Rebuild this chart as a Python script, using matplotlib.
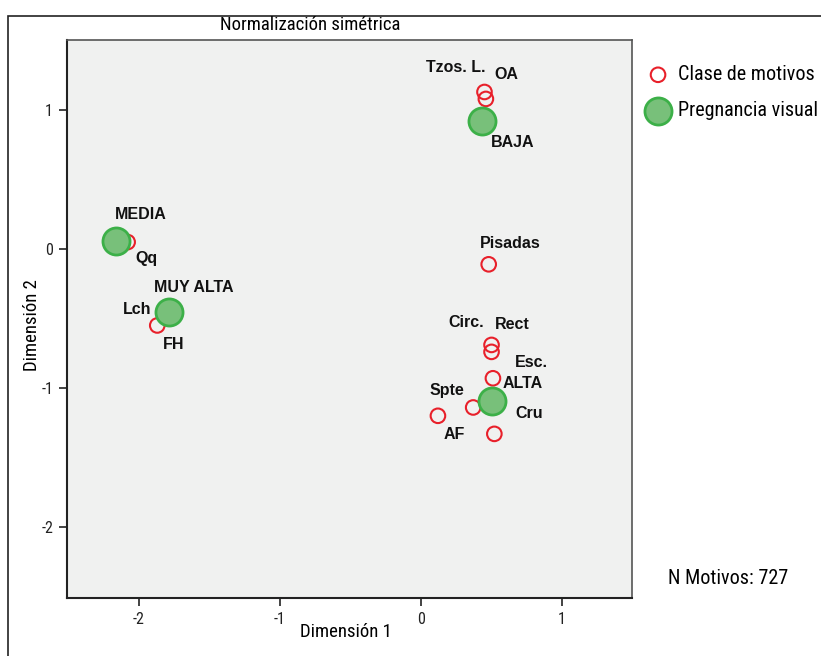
import matplotlib.pyplot as plt
from matplotlib.patches import Rectangle

plt.rcParams['axes.unicode_minus'] = False

# Clase de motivos (red open circles)
motivos = ['Tzos. L.', 'OA', 'Qq', 'Lch', 'FH', 'Pisadas', 'Circ.', 'Rect',
           'Esc.', 'Spte', 'AF', 'Cru']
motivos_x = [0.45, 0.46, -2.08, -1.78, -1.87, 0.48, 0.50, 0.50, 0.51, 0.37, 0.12, 0.52]
motivos_y = [1.13, 1.08, 0.05, -0.44, -0.55, -0.11, -0.69, -0.74, -0.93, -1.14, -1.20, -1.33]

# Pregnancia visual (green filled circles)
pregnancia = ['BAJA', 'MEDIA', 'MUY ALTA', 'ALTA']
pregnancia_x = [0.43, -2.16, -1.79, 0.50]
pregnancia_y = [0.92, 0.06, -0.45, -1.09]

# label offsets in pixels (dx, dy), up = positive
off_motivos = [(-29, 24), (20, 24), (19, -16), (-33, 1), (16, -19), (22, 21),
               (-25, 22), (21, 27), (38, 16), (-26, 17), (16, -19), (35, 20)]
off_pregnancia = [(31, -21), (24, 26), (25, 24), (31, 17)]

narrow = ['Roboto Condensed', 'DejaVu Sans']
bold = ['Liberation Sans', 'DejaVu Sans']

fig = plt.figure(figsize=(8.21, 6.56), dpi=100)
fig.patches.append(Rectangle((8 / 821, -0.1), 1.2, 1 - 16 / 656 + 0.1,
                             transform=fig.transFigure, fill=False,
                             edgecolor='#222222', linewidth=1.2))

ax = fig.add_axes([67 / 821, 58 / 656, 565 / 821, 558 / 656])
ax.set_facecolor('#f0f1f0')
ax.set_xlim(-2.51, 1.496)
ax.set_ylim(-2.511, 1.504)

ax.scatter(motivos_x, motivos_y, s=110, facecolors='none', edgecolors='#e8202a',
           linewidths=1.5, zorder=3, label='Clase de motivos')
ax.scatter(pregnancia_x, pregnancia_y, s=380, color='#78c07a', edgecolors='#3cb048',
           linewidths=2, zorder=4, label='Pregnancia visual')

for name, x, y, o in zip(motivos, motivos_x, motivos_y, off_motivos):
    ax.annotate(name, (x, y), xytext=o, textcoords='offset pixels', ha='center',
                va='center', fontsize=11.5, fontweight='bold', family=bold,
                color='#111111', zorder=5)
for name, x, y, o in zip(pregnancia, pregnancia_x, pregnancia_y, off_pregnancia):
    ax.annotate(name, (x, y), xytext=o, textcoords='offset pixels', ha='center',
                va='center', fontsize=11.5, fontweight='bold', family=bold,
                color='#111111', zorder=5)

ax.set_xticks([-2, -1, 0, 1])
ax.set_yticks([-2, -1, 0, 1])
ax.tick_params(direction='out', length=6, width=1.2, colors='#222222',
               labelsize=11.5, pad=4)
for lab in ax.get_xticklabels() + ax.get_yticklabels():
    lab.set_family(narrow)
for s in ['left', 'bottom']:
    ax.spines[s].set_color('#222222')
    ax.spines[s].set_linewidth(1.5)
for s in ['top', 'right']:
    ax.spines[s].set_color('#555555')
    ax.spines[s].set_linewidth(1.2)

fig.text(346 / 821, 1 - 632 / 656, 'Dimensión 1', family=narrow, fontsize=13.5,
         ha='center', va='center')
fig.text(32 / 821, 1 - 325 / 656, 'Dimensión 2', family=narrow, fontsize=13.5,
         ha='center', va='center', rotation=90)
fig.text(310 / 821, 1 - 25 / 656, 'Normalización simétrica', family=narrow,
         fontsize=13.5, ha='center', va='center')

ax.legend(loc='upper left', bbox_to_anchor=(1.014, 0.9695), frameon=False,
          prop={'family': narrow, 'size': 14.5}, handlelength=1.0,
          handletextpad=0.5, labelspacing=0.85, borderaxespad=0)

fig.text(728 / 821, 1 - 578 / 656, 'N Motivos: 727', family=narrow, fontsize=14.5,
         ha='center', va='center')

fig.savefig('out.png', dpi=100)
